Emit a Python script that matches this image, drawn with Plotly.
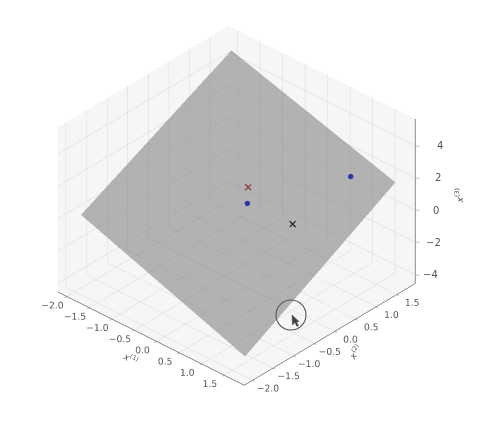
import math
import plotly.graph_objects as go

x1_grid = [-1.93, 1.72]
x2_grid = [-1.93, 1.72]
plane_z = [[0.2, 4.85], [-3.5, 1.75]]  # rows: x1, cols: x2

blue_x1 = [0.12, 1.2]
blue_x2 = [-0.13, 1.2]
blue_x3 = [1.03, 2.18]
cross_x1 = [0.01, 1.0]
cross_x2 = [0.01, 0.01]
cross_x3 = [1.67, 0.76]
cross_colors = ["#8a3a3a", "#222222"]

x_ticks = [-2.0, -1.5, -1.0, -0.5, 0.0, 0.5, 1.0, 1.5]
z_ticks = [-4, -2, 0, 2, 4]
z_label_shift = [15, 18, 21, 23, 25]

def lab(v, d=1):
    return (f"{v:.{d}f}").replace("-", "\u2212")

z_by_y = [[plane_z[i][j] for i in range(2)] for j in range(2)]

X_RANGE = [-2.2, 1.95]
Z_RANGE = [-4.55, 5.65]
TXT = "#555555"

fig = go.Figure()
fig.add_trace(go.Surface(x=x1_grid, y=x2_grid, z=z_by_y, showscale=False,
    colorscale=[[0, "#808080"], [1, "#808080"]], opacity=0.58,
    lighting=dict(ambient=1, diffuse=0, specular=0, roughness=1, fresnel=0),
    hoverinfo="skip"))
fig.add_trace(go.Scatter3d(x=blue_x1, y=blue_x2, z=blue_x3, mode="markers",
    marker=dict(size=3.2, color="#2a35a8"), showlegend=False))
fig.add_trace(go.Scatter3d(x=cross_x1, y=cross_x2, z=cross_x3, mode="markers",
    marker=dict(size=1.5, symbol="x", color=cross_colors), showlegend=False))

# z axis on the right-hand vertical edge
fig.add_trace(go.Scatter3d(x=[X_RANGE[1]]*2, y=[X_RANGE[1]]*2, z=Z_RANGE, mode="lines",
    line=dict(color="#666666", width=1.5), showlegend=False, hoverinfo="skip"))

def axis(ticks, rng, d=1):
    return dict(title=dict(text=""),
        range=rng, tickvals=ticks, ticktext=[lab(t, d) for t in ticks],
        tickfont=dict(size=10.5, color=TXT, family="DejaVu Sans"),
        showbackground=True, backgroundcolor="#f6f6f6",
        gridcolor="#d6d6d6", gridwidth=1, zeroline=False,
        showline=True, linecolor="#666666", linewidth=1.5,
        ticks="outside", ticklen=3, tickcolor="#666666",
        showspikes=False, tickangle=0)

az = math.radians(-47.5)
el = math.radians(33)
R = 8.0
S = 1.188
ZA = 0.776
right = (-math.sin(az), math.cos(az), 0.0)
upv = (-math.sin(el)*math.cos(az), -math.sin(el)*math.sin(az), math.cos(el))
L = 213.0
dx_px, dy_px = 11.5, 15.5   # move the drawing left and up
center = [dx_px/L*right[i] - dy_px/L*upv[i] for i in range(3)]
zaxis = axis(z_ticks, Z_RANGE, 0)
zaxis.update(showticklabels=False, showline=False, ticks="")

title_font = dict(size=9, color=TXT, family="DejaVu Sans")
scene_annotations = []
for t, shift in zip(z_ticks, z_label_shift):
    scene_annotations.append(dict(x=X_RANGE[1], y=X_RANGE[1], z=t, text=lab(t, 0), showarrow=False,
                              xshift=shift, font=dict(size=10, color=TXT, family="DejaVu Sans")))
    scene_annotations.append(dict(x=X_RANGE[1], y=X_RANGE[1], z=t, text="\u2013", showarrow=False,
                              xshift=3, font=dict(size=7, color="#666666", family="DejaVu Sans")))
scene_annotations.append(dict(x=X_RANGE[1], y=X_RANGE[1], z=0.0, text="<i>x</i><sup>(3)</sup>", showarrow=False,
                          xshift=44, yshift=14, textangle=-90, font=title_font))
scene_annotations.append(dict(x=-0.1, y=X_RANGE[0], z=Z_RANGE[0], text="<i>x</i><sup>(1)</sup>", showarrow=False,
                          xshift=-22, yshift=-19, textangle=25, font=title_font))
scene_annotations.append(dict(x=X_RANGE[1], y=-0.1, z=Z_RANGE[0], text="<i>x</i><sup>(2)</sup>", showarrow=False,
                          xshift=24, yshift=-18, textangle=-55, font=title_font))

PAGE_MARGIN = 8  # the page body offsets the plot by this many pixels
def px(x, y):
    return f"{(x-PAGE_MARGIN)/480:.5f} {1-(y-PAGE_MARGIN)/426:.5f}"
cursor = "M " + " L ".join(px(*p) for p in [(292, 315), (292.5, 325), (295, 322.5), (297, 326.5), (298.5, 325.5), (296.5, 322), (299, 321.5)]) + " Z"

fig.update_layout(
    width=480, height=426, margin=dict(l=0, r=0, t=0, b=0),
    paper_bgcolor="white", showlegend=False,
    scene=dict(
        domain=dict(x=[0, 1], y=[0, 1]),
        xaxis=axis(x_ticks, X_RANGE),
        yaxis=axis(x_ticks, X_RANGE),
        zaxis=zaxis,
        aspectmode="manual", aspectratio=dict(x=S, y=S, z=ZA*S),
        annotations=scene_annotations,
        camera=dict(eye=dict(x=center[0]+R*math.cos(az)*math.cos(el), y=center[1]+R*math.sin(az)*math.cos(el), z=center[2]+R*math.sin(el)),
                    center=dict(x=center[0], y=center[1], z=center[2]), up=dict(x=0, y=0, z=1),
                    projection=dict(type="orthographic")),
    ),
    shapes=[dict(type="circle", xref="paper", yref="paper",
                 x0=(276-PAGE_MARGIN)/480, x1=(306-PAGE_MARGIN)/480,
                 y0=1-(330-PAGE_MARGIN)/426, y1=1-(300-PAGE_MARGIN)/426,
                 line=dict(color="#555555", width=1.1)),
            dict(type="path", xref="paper", yref="paper", path=cursor,
                 fillcolor="#444444", line=dict(color="#444444", width=0.5))],
)
fig.write_html("out.html")
